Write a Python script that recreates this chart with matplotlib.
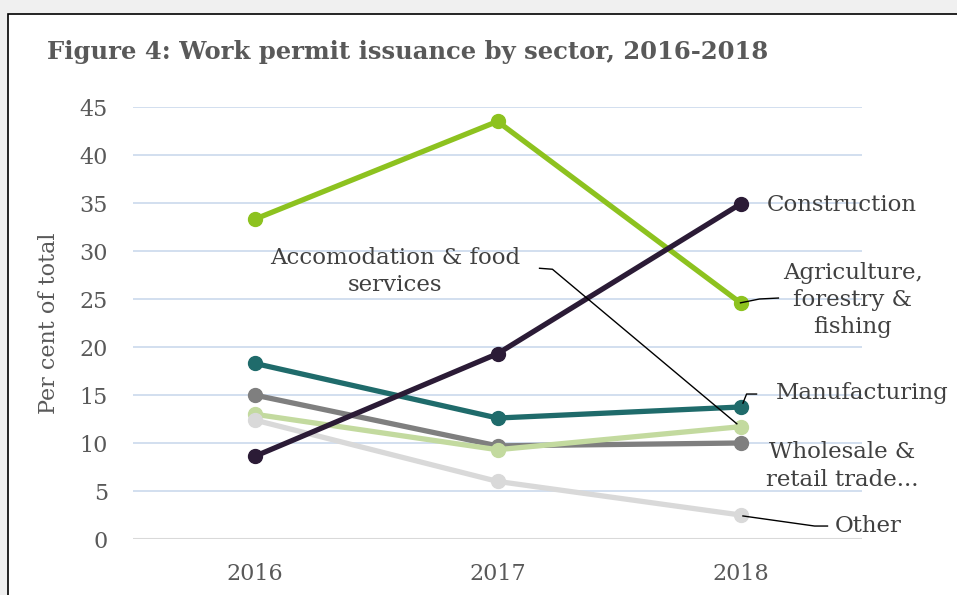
import matplotlib.pyplot as plt
from matplotlib.patches import Rectangle

# Dados (per cent of total)
anos = ['2016', '2017', '2018']
agricultura = [33.3, 43.5, 24.6]
construcao = [8.6, 19.3, 34.9]
manufatura = [18.3, 12.6, 13.75]
atacado = [15.0, 9.7, 10.0]
acomodacao = [13.0, 9.3, 11.7]
outros = [12.4, 6.0, 2.5]
y_ticks = [0, 5, 10, 15, 20, 25, 30, 35, 40, 45]

serif = 'DejaVu Serif'
cinza_txt = '#595959'
x = range(len(anos))

fig = plt.figure(figsize=(9.57, 5.95), dpi=100, facecolor='#f0f0f0')
# moldura branca com borda preta
fig.patches.append(Rectangle((8 / 957, -0.01), 1.0, 1 - 14 / 595 + 0.01,
                             transform=fig.transFigure, facecolor='white',
                             edgecolor='black', linewidth=1.2, zorder=-5))

ax = fig.add_axes([133 / 957, 1 - 539 / 595, (862 - 133) / 957, (539 - 107) / 595])
ax.set_facecolor('none')

# grade
for v in y_ticks[1:]:
    ax.axhline(v, color='#cfdcee', lw=1.3, zorder=0)
ax.axhline(0, color='#d9d9d9', lw=1.5, zorder=0)

estilo = dict(lw=3.8, marker='o', markersize=10, solid_capstyle='round')
ax.plot(x, agricultura, color='#8dc21f', zorder=3, **estilo)
ax.plot(x, construcao, color='#2b1b36', zorder=4, **estilo)
ax.plot(x, manufatura, color='#1f6b6b', zorder=3, **estilo)
ax.plot(x, atacado, color='#7f7f7f', zorder=3, **estilo)
ax.plot(x, acomodacao, color='#c3da9f', zorder=3, **estilo)
ax.plot(x, outros, color='#d9d9d9', zorder=3, **estilo)

ax.set_xlim(-0.5, 2.5)
ax.set_ylim(0, 45)
ax.set_xticks(list(x))
ax.set_xticklabels(anos)
ax.set_yticks(y_ticks)
for s in ax.spines.values():
    s.set_visible(False)
ax.tick_params(length=0, labelsize=16, labelcolor=cinza_txt)
ax.tick_params(axis='y', pad=18)
ax.tick_params(axis='x', pad=17)
for lbl in ax.get_xticklabels() + ax.get_yticklabels():
    lbl.set_family(serif)

ax.set_ylabel('Per cent of total', family=serif, fontsize=16, color=cinza_txt, labelpad=14)

fig.text(47 / 957, 1 - 52 / 595, 'Figure 4: Work permit issuance by sector, 2016-2018',
         family=serif, fontsize=17.5, fontweight='bold', color=cinza_txt, va='center')

# rótulos das séries
rot = dict(family=serif, fontsize=16.5, color='#404040', va='center')
ax.text(2.107, 34.8, 'Construction', ha='left', **rot)
ax.text(2.461, 24.9, 'Agriculture,\nforestry &\nfishing', ha='center',
        multialignment='center', linespacing=1.3, **rot)
ax.text(2.144, 15.2, 'Manufacturing', ha='left', **rot)
ax.text(2.42, 7.6, 'Wholesale &\nretail trade...', ha='center',
        multialignment='center', linespacing=1.3, **rot)
ax.text(2.387, 1.35, 'Other', ha='left', **rot)
ax.text(0.58, 27.9, 'Accomodation & food\nservices', ha='center',
        multialignment='center', linespacing=1.3, **rot)

# linhas de chamada
lider = dict(color='black', lw=1.0, zorder=5, clip_on=False)
ax.plot([2, 2.078, 2.156], [agricultura[2], 25.0, 25.1], **lider)
ax.plot([2.01, 2.025, 2.066], [manufatura[2] + 0.4, 15.1, 15.1], **lider)
ax.plot([2.01, 2.305, 2.358], [outros[2] - 0.1, 1.35, 1.35], **lider)
ax.plot([1.985, 1.226, 1.173], [acomodacao[2] + 0.3, 28.1, 28.2], **lider)

fig.savefig('out.png', dpi=100, facecolor=fig.get_facecolor())
